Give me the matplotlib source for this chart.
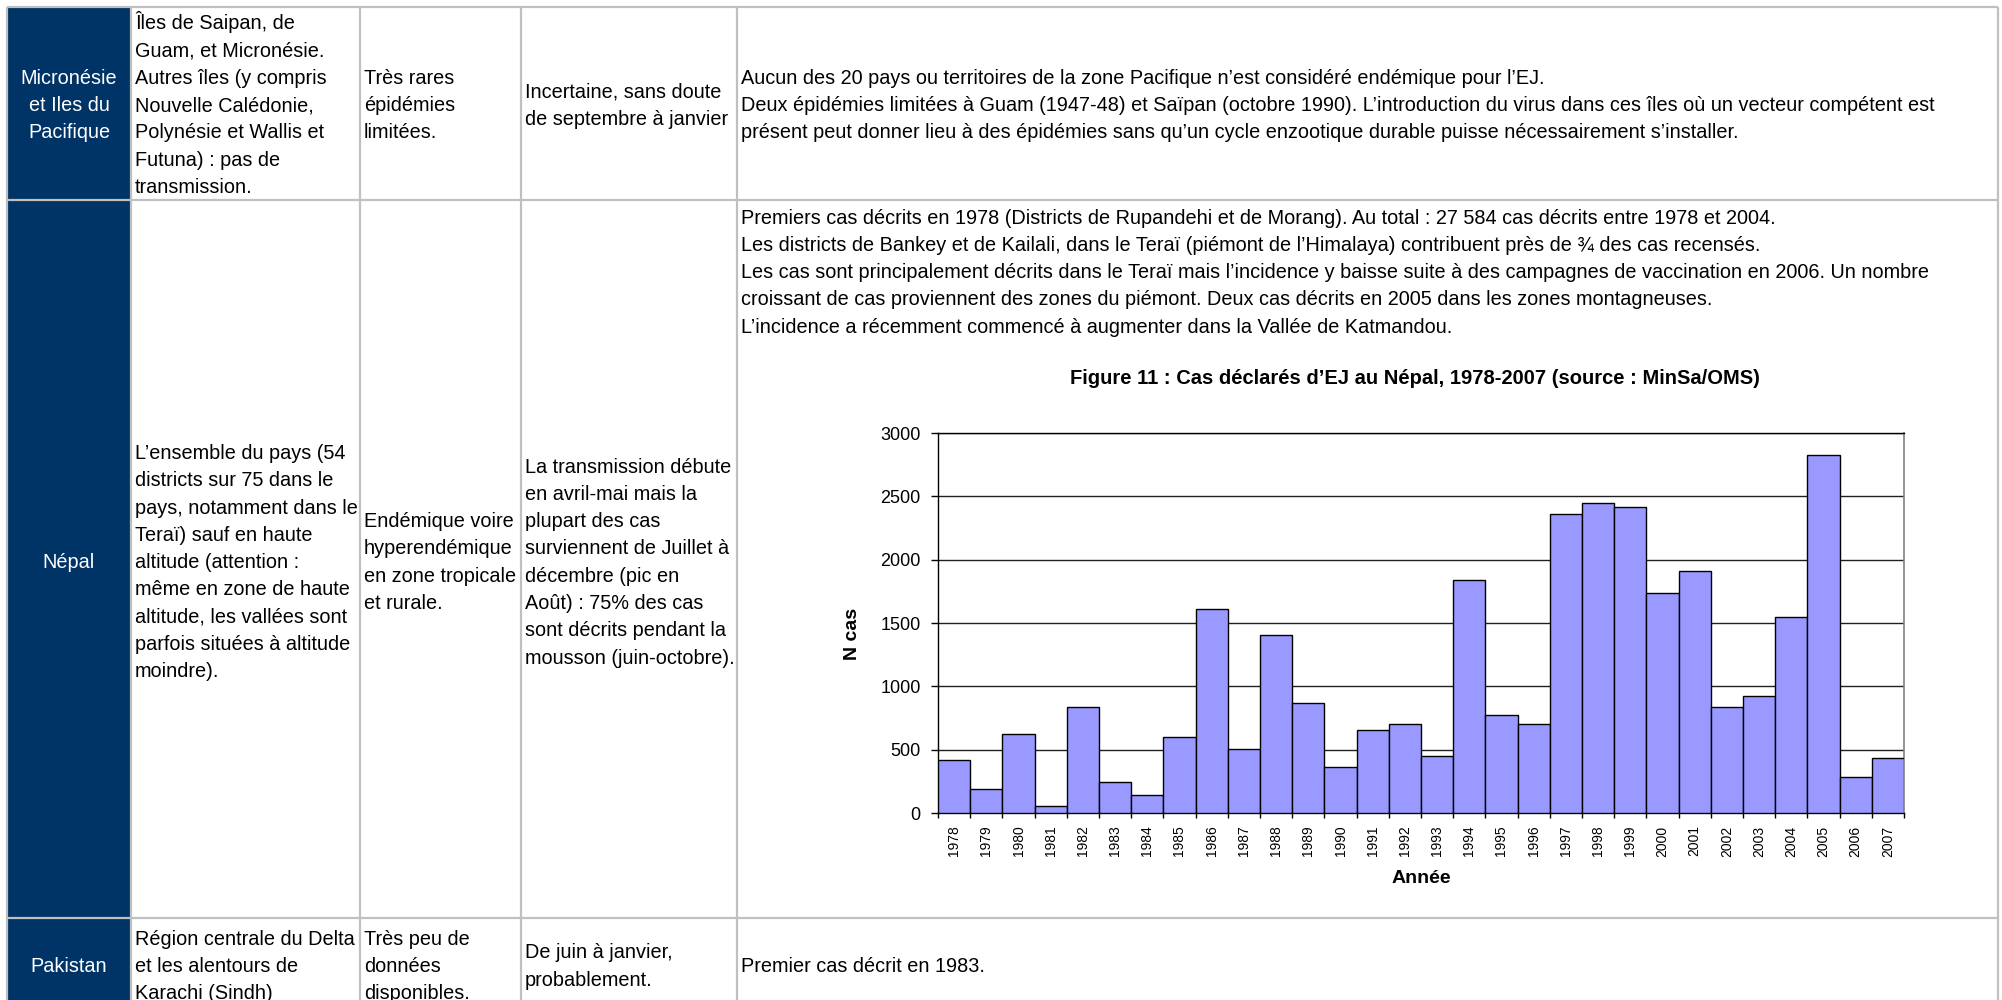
import matplotlib
matplotlib.use("Agg")
import matplotlib.pyplot as plt
from matplotlib import font_manager
from matplotlib.patches import Rectangle

# ---------------- data ----------------
years = ["1978", "1979", "1980", "1981", "1982", "1983", "1984", "1985", "1986", "1987",
         "1988", "1989", "1990", "1991", "1992", "1993", "1994", "1995", "1996", "1997",
         "1998", "1999", "2000", "2001", "2002", "2003", "2004", "2005", "2006", "2007"]
cases = [421, 189, 626, 55, 839, 245, 139, 597, 1613, 505,
         1405, 868, 363, 653, 700, 447, 1837, 774, 700, 2358,
         2447, 2413, 1734, 1911, 839, 924, 1547, 2824, 287, 437]
yticks = [0, 500, 1000, 1500, 2000, 2500, 3000]

chart_title = "Figure 11 : Cas déclarés d’EJ au Népal, 1978-2007 (source : MinSa/OMS)"
xlabel = "Année"
ylabel = "N cas"

countries = ["Micronésie\net Iles du\nPacifique", "Népal", "Pakistan"]
zones = [
    "Îles de Saipan, de\nGuam, et Micronésie.\nAutres îles (y compris\nNouvelle Calédonie,\nPolynésie et Wallis et\nFutuna) : pas de\ntransmission.",
    "L’ensemble du pays (54\ndistricts sur 75 dans le\npays, notamment dans le\nTeraï) sauf en haute\naltitude (attention :\nmême en zone de haute\naltitude, les vallées sont\nparfois situées à altitude\nmoindre).",
    "Région centrale du Delta\net les alentours de\nKarachi (Sindh)",
]
endemicity = [
    "Très rares\népidémies\nlimitées.",
    "Endémique voire\nhyperendémique\nen zone tropicale\net rurale.",
    "Très peu de\ndonnées\ndisponibles.",
]
seasons = [
    "Incertaine, sans doute\nde septembre à janvier",
    "La transmission débute\nen avril-mai mais la\nplupart des cas\nsurviennent de Juillet à\ndécembre (pic en\nAoût) : 75% des cas\nsont décrits pendant la\nmousson (juin-octobre).",
    "De juin à janvier,\nprobablement.",
]
comments = [
    "Aucun des 20 pays ou territoires de la zone Pacifique n’est considéré endémique pour l’EJ.\n"
    "Deux épidémies limitées à Guam (1947-48) et Saïpan (octobre 1990). L’introduction du virus dans ces îles où un vecteur compétent est\n"
    "présent peut donner lieu à des épidémies sans qu’un cycle enzootique durable puisse nécessairement s’installer.",
    "Premiers cas décrits en 1978 (Districts de Rupandehi et de Morang). Au total : 27 584 cas décrits entre 1978 et 2004.\n"
    "Les districts de Bankey et de Kailali, dans le Teraï (piémont de l’Himalaya) contribuent près de ¾ des cas recensés.\n"
    "Les cas sont principalement décrits dans le Teraï mais l’incidence y baisse suite à des campagnes de vaccination en 2006. Un nombre\n"
    "croissant de cas proviennent des zones du piémont. Deux cas décrits en 2005 dans les zones montagneuses.\n"
    "L’incidence a récemment commencé à augmenter dans la Vallée de Katmandou.",
    "Premier cas décrit en 1983.",
]

# ---------------- fonts ----------------
names = {f.name for f in font_manager.fontManager.ttflist}
NARROW = "Liberation Sans Narrow" if "Liberation Sans Narrow" in names else "Liberation Sans"
REG = "Liberation Sans" if "Liberation Sans" in names else "DejaVu Sans"

W, H = 2002, 1000
fig = plt.figure(figsize=(W / 100, H / 100), dpi=100)

# ---------------- table (pixel coordinates) ----------------
tab = fig.add_axes([0, 0, 1, 1])
tab.set_xlim(0, W)
tab.set_ylim(H, 0)
tab.axis("off")

col_x = [7, 131, 360, 521, 737, 1998]
row_y = [7, 200, 918, 1010]
row_center = [104, 561, 965]
navy = "#003366"
grid = "#C0C0C0"

tab.add_patch(Rectangle((col_x[0], row_y[0]), col_x[1] - col_x[0], row_y[-1] - row_y[0],
                        facecolor=navy, edgecolor="none", zorder=1))
for xv in col_x:
    tab.plot([xv, xv], [row_y[0], H + 5], color=grid, lw=1.6, zorder=3, solid_capstyle="butt")
for yv in row_y[:-1]:
    tab.plot([col_x[0], col_x[-1]], [yv, yv], color=grid, lw=1.6, zorder=3, solid_capstyle="butt")

FS = 14.3
EM = FS * 100 / 72
STEP = 27.3
PAD = 4


def block(txt, x, yc, ha="left", color="black", step=STEP):
    lines = txt.split("\n")
    n = len(lines)
    for k, ln in enumerate(lines):
        y = yc + (k - (n - 1) / 2) * step + 0.36 * EM
        tab.text(x, y, ln, ha=ha, va="baseline", fontsize=FS, family=NARROW,
                 color=color, zorder=4)


for i in range(3):
    yc = row_center[i]
    block(countries[i], (col_x[0] + col_x[1]) / 2, yc, ha="center", color="white")
    block(zones[i], col_x[1] + PAD, yc)
    block(endemicity[i], col_x[2] + PAD, yc)
    block(seasons[i], col_x[3] + PAD, yc)

block(comments[0], col_x[4] + PAD, row_center[0])
block(comments[1], col_x[4] + PAD, 271)
block(comments[2], col_x[4] + PAD, row_center[2])

tab.text(1415, 378, chart_title, ha="center", va="center", fontsize=14.5,
         family=NARROW, fontweight="bold", zorder=4)

# ---------------- bar chart ----------------
ax_l, ax_r, ax_t, ax_b = 938, 1904, 433, 813
ax = fig.add_axes([ax_l / W, (H - ax_b) / H, (ax_r - ax_l) / W, (ax_b - ax_t) / H])
ax.set_facecolor("white")
x = list(range(len(years)))
ax.bar(x, cases, width=1.0, color="#9999FF", edgecolor="black", linewidth=1.0, zorder=3)
ax.set_xlim(-0.5, len(years) - 0.5)
ax.set_ylim(0, 3000)
ax.set_yticks(yticks)
ax.set_yticklabels([str(v) for v in yticks], fontsize=13, family=REG)
for v in yticks[1:]:
    ax.axhline(v, color="#202020", lw=1.0, zorder=1)

ax.set_xticks([i - 0.5 for i in range(len(years) + 1)])
ax.set_xticklabels([])
ax.set_xticks(x, minor=True)
ax.set_xticklabels(years, minor=True, rotation=90, fontsize=10, family=REG)
ax.tick_params(axis="x", which="major", direction="out", length=3.6, width=1, color="black")
ax.tick_params(axis="x", which="minor", length=0, pad=9)
ax.tick_params(axis="y", direction="out", length=5.4, width=1, pad=7)

for s in ["left", "bottom", "top"]:
    ax.spines[s].set_color("black")
    ax.spines[s].set_linewidth(1.0)
ax.spines["right"].set_color("#808080")
ax.spines["right"].set_linewidth(1.2)

ax.set_ylabel(ylabel, fontsize=14, fontweight="bold", family=REG)
ax.yaxis.set_label_coords(-0.080, 0.47)
ax.set_xlabel(xlabel, fontsize=14, fontweight="bold", family=REG)
ax.xaxis.set_label_coords(0.5, -0.150)

fig.savefig("out.png", dpi=100, facecolor="white")
